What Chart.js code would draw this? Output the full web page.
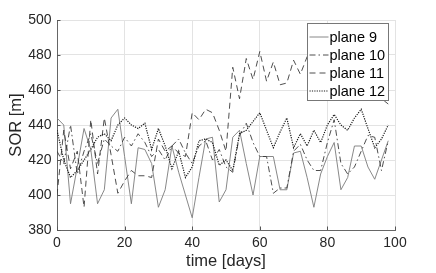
<!DOCTYPE html>
<html>
<head>
<meta charset="utf-8">
<script src="https://cdn.jsdelivr.net/npm/chart.js@4/dist/chart.umd.min.js"></script>
<style>
html,body{margin:0;padding:0;background:#fff;}
#wrap{width:436px;height:273px;position:relative;}
</style>
</head>
<body>
<div id="wrap"><canvas id="c" width="436" height="273"></canvas></div>
<script>
// time axis (days)
const days = [0,2,4,6,8,10,12,14,16,18,20,22,24,26,28,30,32,34,36,38,40,42,44,46,48,50,52,54,56,58,60,62,64,66,68,70,72,74,76,78,80,82,84,86,88,90,92,94,96,98];

const plane9 = [444,440,395,416,438,426,395,403,444,449,422,395,427,426,418,393,403,428,413,400,387,410,432,433,396,403,433,437,418,400,422,422,422,403,403,424,425,410,393,412,422,430,403,410,428,428,416,409,420,431];
const plane10 = [425,418,440,412,425,435,418,432,428,425,433,428,435,430,422,426,420,428,432,424,418,428,431,420,426,416,413,434,441,430,422,422,401,404,404,425,429,420,414,414,430,443,418,412,416,425,434,433,414,431];
const plane11 = [400,437,415,425,393,443,412,444,423,401,408,414,411,411,410,432,425,428,424,422,447,443,449,447,437,425,473,455,478,466,482,465,476,463,464,477,469,479,470,478,466,474,464,471,460,467,458,454,455,452];
const plane12 = [437,420,410,414,420,426,433,435,431,440,444,440,438,441,426,438,428,415,425,410,416,431,432,430,417,420,414,435,437,442,447,437,427,436,444,427,435,428,437,430,440,446,440,437,444,449,438,427,432,440];

const seriesLabels = ['plane 9','plane 10','plane 11','plane 12'];
const xTicks = [0,20,40,60,80,100];
const yTicks = [380,400,420,440,460,480,500];

const styles = [
  {color:'#7a7a7a', dash:[], width:0.9},
  {color:'#3a3a3a', dash:[6,3,1.5,3], width:0.9},
  {color:'#3a3a3a', dash:[6,4], width:0.9},
  {color:'#1a1a1a', dash:[1.2,1.2], width:1.2}
];
const allSeries = [plane9, plane10, plane11, plane12];

const datasets = allSeries.map((vals,i)=>({
  label: seriesLabels[i],
  data: days.map((d,j)=>({x:d, y:vals[j]})),
  borderColor: styles[i].color,
  borderDash: styles[i].dash,
  borderWidth: styles[i].width,
  pointRadius: 0,
  tension: 0,
  fill: false,
  order: 4 - i
}));

const FONT = "'Liberation Sans', Arial, Helvetica, sans-serif";
const TXT = '#262626';

const innerTicks = {
  id:'innerTicks',
  afterDraw(chart){
    const ctx = chart.ctx, xs = chart.scales.x, ys = chart.scales.y;
    const a = chart.chartArea;
    ctx.save();
    ctx.strokeStyle = '#555';
    ctx.lineWidth = 1;
    ctx.beginPath();
    xTicks.forEach(v=>{const p=Math.round(xs.getPixelForValue(v))+0.5; ctx.moveTo(p,a.bottom); ctx.lineTo(p,a.bottom-3.5);});
    yTicks.forEach(v=>{const p=Math.round(ys.getPixelForValue(v))+0.5; ctx.moveTo(a.left,p); ctx.lineTo(a.left+3.5,p);});
    ctx.stroke();
    ctx.restore();
  }
};

const boxLegend = {
  id:'boxLegend',
  afterDatasetsDraw(chart){
    const ctx = chart.ctx;
    const x0 = 307.5, y0 = 23.5, w = 81, h = 77;
    ctx.save();
    ctx.fillStyle = '#fff';
    ctx.fillRect(x0,y0,w,h);
    ctx.strokeStyle = '#777';
    ctx.lineWidth = 1;
    ctx.strokeRect(x0,y0,w,h);
    ctx.font = "14.5px " + FONT;
    ctx.textBaseline = 'middle';
    ctx.textAlign = 'left';
    chart.data.datasets.forEach((ds,i)=>{
      const yy = y0 + 13.5 + i*18;
      ctx.beginPath();
      ctx.strokeStyle = ds.borderColor;
      ctx.lineWidth = ds.borderWidth;
      ctx.setLineDash(ds.borderDash);
      ctx.moveTo(x0+2, yy);
      ctx.lineTo(x0+21, yy);
      ctx.stroke();
      ctx.setLineDash([]);
      ctx.fillStyle = '#000';
      ctx.fillText(ds.label, x0+22, yy+0.5);
    });
    ctx.restore();
  }
};

new Chart(document.getElementById('c'), {
  type:'line',
  data:{datasets},
  options:{
    responsive:false,
    animation:false,
    devicePixelRatio:1,
    layout:{padding:{left:0,right:41,top:20,bottom:0}},
    plugins:{legend:{display:false}, tooltip:{enabled:false}},
    scales:{
      x:{
        type:'linear', min:0, max:100,
        afterBuildTicks(s){ s.ticks = xTicks.map(v=>({value:v})); },
        afterFit(s){ s.height = 43; },
        grid:{color:'#e3e3e3', lineWidth:1, drawTicks:false},
        border:{display:true, color:'#666', width:1},
        ticks:{color:TXT, font:{family:FONT, size:14}, padding:5, maxRotation:0},
        title:{display:true, text:'time [days]', color:TXT, font:{family:FONT, size:16.5}, padding:{top:0,bottom:1.5}}
      },
      y:{
        min:380, max:500,
        afterBuildTicks(s){ s.ticks = yTicks.map(v=>({value:v})); },
        afterFit(s){ s.width = 57; },
        grid:{color:'#e3e3e3', lineWidth:1, drawTicks:false},
        border:{display:true, color:'#666', width:1},
        ticks:{color:TXT, font:{family:FONT, size:14}, padding:5.5},
        title:{display:true, text:'SOR [m]', color:TXT, font:{family:FONT, size:16.5}, padding:{top:6.5,bottom:0}}
      }
    }
  },
  plugins:[innerTicks, boxLegend]
});
</script>
</body>
</html>
